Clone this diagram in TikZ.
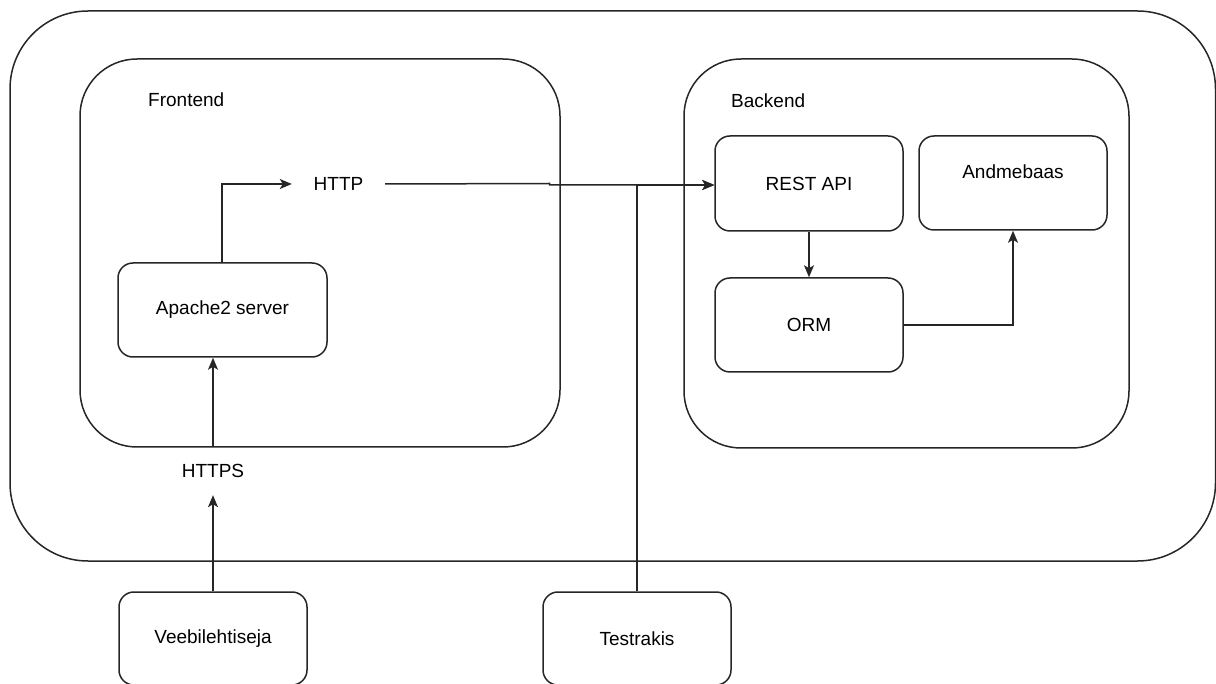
\documentclass[tikz,border=0pt]{standalone}
\usepackage{fontspec}
\setmainfont{Liberation Sans}
\usetikzlibrary{arrows.meta}
\tikzset{
  ln/.style={line width=1.5pt, draw=black!85},
  box/.style={ln, rounded corners=15pt, inner sep=0pt, fill=white},
  group/.style={ln, rounded corners=57pt, inner sep=0pt},
  txt/.style={font=\fontsize{19}{22}\selectfont, inner sep=0pt},
  conn/.style={ln, -{Stealth[length=12pt,width=10pt,inset=3pt]}},
  plain/.style={ln}
}
\begin{document}
\begin{tikzpicture}[x=1pt,y=-1pt]
\useasboundingbox (0,0) rectangle (1216,684);
% outer container
\node[ln, rounded corners=78pt, inner sep=0pt, minimum width=1205.5pt, minimum height=550pt] (outer) at (612.75,286) {};
% groups
\node[group, minimum width=480pt, minimum height=388pt] (front) at (320,253) {};
\node[group, minimum width=445pt, minimum height=389pt] (back) at (906.5,253.5) {};
\node[txt, anchor=west] (frontlbl) at (148,100) {Frontend};
\node[txt, anchor=west] (backlbl) at (731,101) {Backend};
% backend boxes
\node[box, minimum width=188pt, minimum height=95pt, txt] (rest) at (809,183.5) {REST API};
\node[box, minimum width=188pt, minimum height=94pt] (db) at (1013,183) {};
\node[txt] (dblbl) at (1013,172) {Andmebaas};
\node[box, minimum width=188pt, minimum height=94pt, txt] (orm) at (809,325) {ORM};
% frontend
\node[box, minimum width=209pt, minimum height=94pt, txt] (apache) at (222.5,310) {Apache2 server};
\node[txt, minimum width=93pt, minimum height=30pt] (http) at (338.5,184) {HTTP};
\node[txt, minimum width=80pt, minimum height=48pt] (https) at (213,471) {HTTPS};
% actors
\node[box, minimum width=188pt, minimum height=93pt, txt] (user) at (213,638.5) {Veebilehtiseja};
\node[box, minimum width=188pt, minimum height=93pt, txt] (test) at (637,638.5) {Testrakis};
% helper coordinates
\coordinate (step1) at (549.5,183.5);
\coordinate (step2) at (549.5,185);
% connectors
\draw[conn] (apache.north -| 222,0) |- (http.west);
\draw[conn] (http.east) -- (step1) -- (step2) -- (rest.west |- step2);
\draw[conn] (test.north) |- (rest.west |- step2);
\draw[conn] (rest.south) -- (orm.north);
\draw[conn] (orm.east) -| (db.south);
\draw[conn] (https.north) -- (apache.south -| https.north);
\draw[conn] (user.north) -- (https.south);
\end{tikzpicture}
\end{document}
